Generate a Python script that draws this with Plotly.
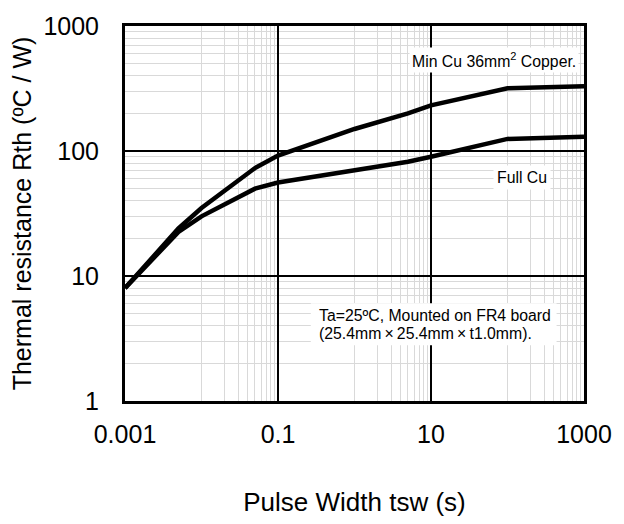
import plotly.graph_objects as go

# ---- data ----
pulse_width = [0.001, 0.005, 0.01, 0.05, 0.1, 1, 5, 10, 100, 1000]
rth_min_cu = [8, 24, 35, 73, 92, 150, 200, 232, 318, 330]
rth_full_cu = [8, 22.5, 30, 50, 56, 70, 82, 90, 125, 130]

x_tick_vals = [0.001, 0.1, 10, 1000]
x_tick_text = ["0.001", "0.1", "10", "1000"]
y_tick_vals = [1, 10, 100, 1000]
y_tick_text = ["1", "10", "100", "1000"]

label_min_cu = "Min Cu 36mm<sup>2</sup> Copper."
label_full_cu = "Full Cu"
note_line1 = "Ta=25ºC, Mounted on FR4 board"
note_line2 = "(25.4mm\u2009×\u200925.4mm\u2009×\u2009t1.0mm)."
x_title = "Pulse Width tsw (s)"
y_title = "Thermal resistance Rth (ºC / W)"

# minor grid positions (axis styling)
x_minor = [10 ** (k + 1) * m for k in (-3, -1, 1) for m in range(1, 10)]
y_minor = [10 ** k * m for k in (0, 1, 2) for m in range(2, 10)]

FONT = "Liberation Sans, Arial, sans-serif"

# plot-area geometry in pixels (for placing notes in paper coords)
PX_L, PX_R, PX_T, PX_B = 125.3, 594.0, 20.5, 404.0


def px_x(px):
    return (px - PX_L) / (PX_R - PX_L)


def px_y(py):
    return (PX_B - py) / (PX_B - PX_T)


fig = go.Figure()
fig.add_trace(go.Scatter(x=pulse_width, y=rth_min_cu, mode="lines",
                         line=dict(color="black", width=4.5), name="Min Cu"))
fig.add_trace(go.Scatter(x=pulse_width, y=rth_full_cu, mode="lines",
                         line=dict(color="black", width=4.5), name="Full Cu"))

axis_common = dict(
    type="log", showgrid=True, gridcolor="black", gridwidth=2,
    showline=True, linecolor="black", linewidth=3, mirror=True,
    ticks="", zeroline=False, tickfont=dict(size=25, color="black", family=FONT),
)

fig.update_xaxes(
    **axis_common, range=[-3, 3], tickvals=x_tick_vals, ticktext=x_tick_text,
    ticklabelstandoff=9,
    minor=dict(tickvals=x_minor, showgrid=True, gridcolor="#d9d9d9", gridwidth=1, ticks=""),
    title=dict(text=x_title, font=dict(size=26, color="black", family=FONT), standoff=46),
)
fig.update_yaxes(
    **axis_common, range=[0, 3], tickvals=y_tick_vals, ticktext=y_tick_text,
    ticklabelstandoff=18,
    minor=dict(tickvals=y_minor, showgrid=True, gridcolor="#d9d9d9", gridwidth=1, ticks=""),
    title=dict(text=y_title, font=dict(size=25, color="black", family=FONT), standoff=5),
)

# white box behind the two-line note
fig.add_shape(type="rect", xref="paper", yref="paper",
              x0=px_x(315), x1=px_x(566), y0=px_y(347), y1=px_y(304),
              fillcolor="white", line=dict(width=0), layer="above")

ann_font = dict(size=15.8, color="black", family=FONT)
fig.add_annotation(text=label_min_cu, xref="paper", yref="paper",
                   x=px_x(502.4), y=px_y(55), xanchor="center", yanchor="middle",
                   showarrow=False, font=ann_font, bgcolor="white", borderpad=2)
fig.add_annotation(text=label_full_cu, xref="paper", yref="paper",
                   x=px_x(530.7), y=px_y(175), xanchor="center", yanchor="middle",
                   showarrow=False, font=ann_font, bgcolor="white", borderpad=3)
fig.add_annotation(text=note_line1, xref="paper", yref="paper",
                   x=px_x(321.7), y=px_y(316.5), xanchor="left", yanchor="middle",
                   showarrow=False, font=ann_font)
fig.add_annotation(text=note_line2, xref="paper", yref="paper",
                   x=px_x(321.7), y=px_y(335), xanchor="left", yanchor="middle",
                   showarrow=False, font=ann_font)

fig.update_layout(
    width=624, height=524,
    margin=dict(l=125, r=30, t=20, b=120),
    plot_bgcolor="white", paper_bgcolor="white",
    showlegend=False,
    font=dict(family=FONT, color="black"),
)

fig.write_html("out.html", config={"displayModeBar": False},
               post_script="document.body.style.margin='0';")
